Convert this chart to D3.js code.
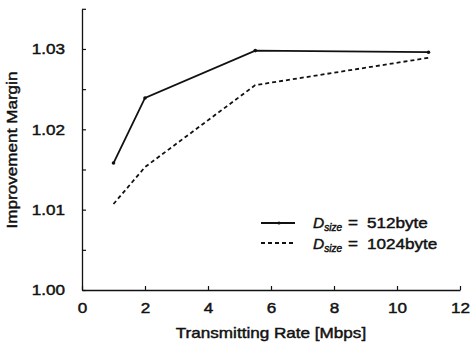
<!DOCTYPE html>
<html>
<head>
<meta charset="utf-8">
<script src="https://cdn.jsdelivr.net/npm/d3@7"></script>
<style>
  html, body { margin: 0; padding: 0; background: #fff; }
  svg text { font-family: "Liberation Sans", Arial, sans-serif; fill: #111; stroke: #111; stroke-width: 0.45px; }
</style>
</head>
<body>
<svg id="chart" width="473" height="345"></svg>
<script>
const rates = [1, 2, 5.5, 11];
const margin512 = [1.0158, 1.0239, 1.0298, 1.0296];
const margin1024 = [1.0107, 1.0153, 1.0255, 1.0289];
const xTicks = [0, 2, 4, 6, 8, 10, 12];
const yMajorTicks = [1.00, 1.01, 1.02, 1.03];
const yMinorTicks = [1.005, 1.015, 1.025, 1.035];
const seriesNames = ["512byte", "1024byte"];

const svg = d3.select("#chart");
const x = d3.scaleLinear().domain([0, 12]).range([82, 460]);
const y = d3.scaleLinear().domain([1.0, 1.035]).range([290, 8.8]);

const STRETCH = 1.14;
function stretch(sel) {
  sel.each(function() {
    const len = this.getComputedTextLength();
    d3.select(this).attr("textLength", len * STRETCH).attr("lengthAdjust", "spacingAndGlyphs");
  });
}

// X axis
const gx = svg.append("g").attr("transform", "translate(0,290)")
  .call(d3.axisBottom(x).tickValues(xTicks).tickFormat(d3.format("d")).tickSize(-4).tickPadding(12).tickSizeOuter(0));
gx.selectAll("text").attr("font-size", 15);
// Y axis minor ticks
const gyMinor = svg.append("g").attr("transform", "translate(82,0)")
  .call(d3.axisLeft(y).tickValues(yMinorTicks).tickFormat("").tickSize(-4).tickSizeOuter(0));
// Y axis major
const gy = svg.append("g").attr("transform", "translate(82,0)")
  .call(d3.axisLeft(y).tickValues(yMajorTicks).tickFormat(d3.format(".2f")).tickSize(-4).tickPadding(17).tickSizeOuter(0));
gy.selectAll("text").attr("font-size", 15);

svg.selectAll(".domain").attr("stroke", "#111").attr("stroke-width", 1.3);
svg.selectAll(".tick line").attr("stroke", "#111").attr("stroke-width", 1.2);
gyMinor.select(".domain").remove();

gx.selectAll("text").call(stretch);
gy.selectAll("text").call(stretch);

// Axis titles
svg.append("text").attr("x", 271).attr("y", 338).attr("text-anchor", "middle")
  .attr("font-size", 15).text("Transmitting Rate [Mbps]").call(stretch);
svg.append("text").attr("transform", "translate(17,150) rotate(-90)").attr("text-anchor", "middle")
  .attr("font-size", 15).text("Improvement Margin").call(stretch);

// Lines
const line = d3.line().x((d, i) => x(rates[i])).y(d => y(d));
svg.append("path").datum(margin512).attr("d", line)
  .attr("fill", "none").attr("stroke", "#111").attr("stroke-width", 1.8);
svg.append("path").datum(margin1024).attr("d", line)
  .attr("fill", "none").attr("stroke", "#111").attr("stroke-width", 1.8).attr("stroke-dasharray", "4,3");

// markers on 512 line
const mk = svg.append("g");
margin512.forEach((v, i) => {
  mk.append("circle").attr("cx", x(rates[i])).attr("cy", y(v)).attr("r", 1.8).attr("fill", "#111");
});

// Legend
const legendRows = [
  { name: seriesNames[0], dash: null, ly: 223, ty: 228, marker: true },
  { name: seriesNames[1], dash: "4,3", ly: 243, ty: 249, marker: false }
];
legendRows.forEach(r => {
  svg.append("line").attr("x1", 261).attr("x2", 295).attr("y1", r.ly).attr("y2", r.ly)
    .attr("stroke", "#111").attr("stroke-width", 1.8).attr("stroke-dasharray", r.dash);
  if (r.marker) {
    svg.append("circle").attr("cx", 279).attr("cy", r.ly).attr("r", 1.6).attr("fill", "#111");
  }
  const t = svg.append("text").attr("x", 313).attr("y", r.ty).attr("font-size", 15);
  t.append("tspan").attr("font-style", "italic").attr("font-size", 15.5).text("D");
  t.append("tspan").attr("font-style", "italic").attr("font-size", 10).attr("dy", 3).text("size");
  svg.append("text").attr("x", 348).attr("y", r.ty).attr("font-size", 15).text("=").call(stretch);
  svg.append("text").attr("x", 367).attr("y", r.ty).attr("font-size", 15).text(r.name).call(stretch);
});
</script>
</body>
</html>
